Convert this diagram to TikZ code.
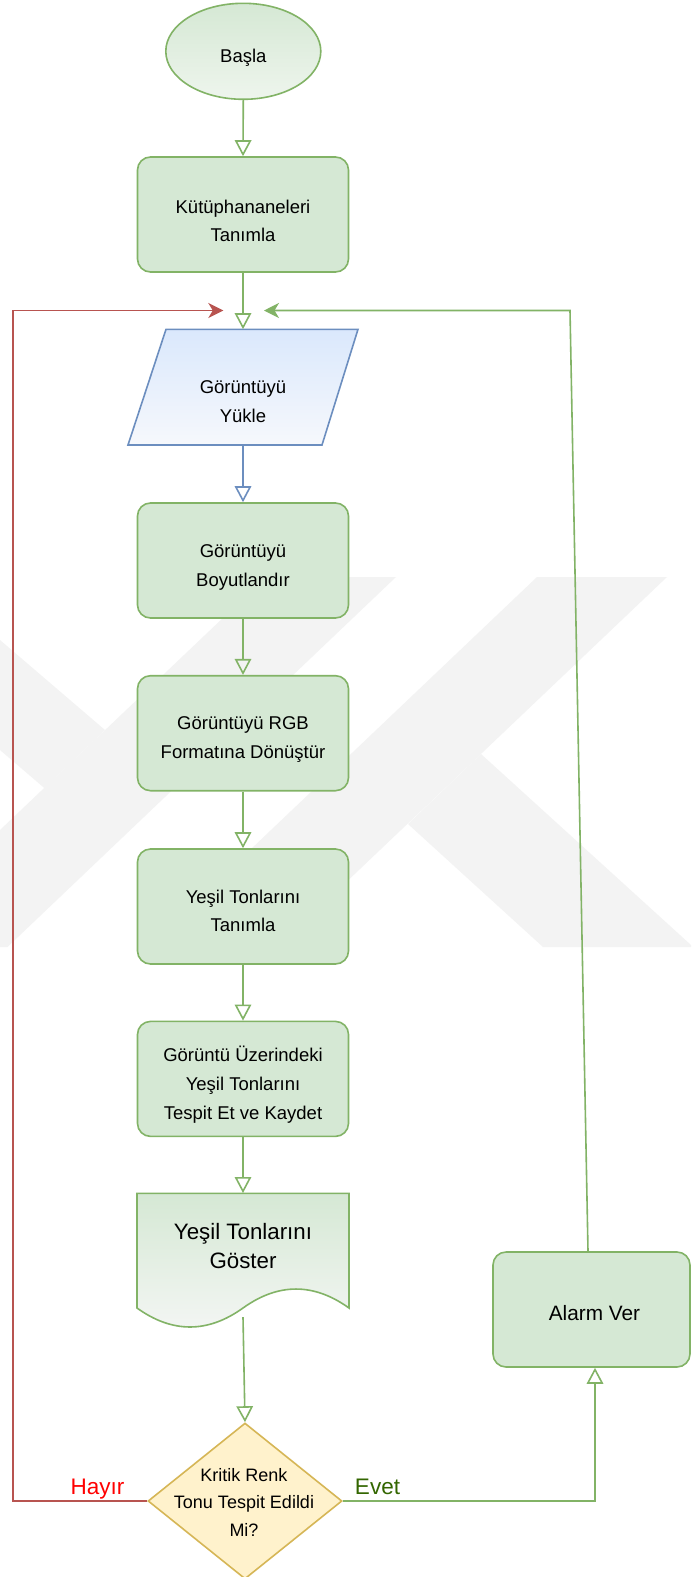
\documentclass[tikz,border=0pt]{standalone}
\usepackage{fontspec}
\setmainfont{Liberation Sans}
\usetikzlibrary{arrows.meta,shapes.geometric,calc}
\definecolor{gstroke}{HTML}{82B366}
\definecolor{gfill}{HTML}{D5E8D4}
\definecolor{gfillL}{HTML}{EEF5ED}
\definecolor{docL}{HTML}{F4F6F4}
\definecolor{bstroke}{HTML}{6C8EBF}
\definecolor{bfill}{HTML}{DAE8FC}
\definecolor{bfillL}{HTML}{F6F8FC}
\definecolor{ystroke}{HTML}{D6B656}
\definecolor{yfill}{HTML}{FFF2CC}
\definecolor{rstroke}{HTML}{B85450}
\definecolor{evetc}{HTML}{336600}
\definecolor{hayirc}{HTML}{FF0000}
\definecolor{wmark}{HTML}{F3F3F3}
\begin{document}
\begin{tikzpicture}[x=1pt,y=-1pt,
  procbox/.style={draw=gstroke, fill=gfill, line width=1.6pt, rounded corners=13pt,
    minimum width=211pt, minimum height=115pt, inner sep=0pt},
  txt/.style={font=\fontsize{18.5}{28.7}\selectfont, align=center, inner sep=0pt, text=black},
  bigtxt/.style={font=\fontsize{22.3}{29}\selectfont, align=center, inner sep=0pt, text=black},
  flowg/.style={draw=gstroke, line width=1.6pt, -{Triangle[open, length=16pt, width=16.5pt]}},
  flowb/.style={draw=bstroke, line width=1.6pt, -{Triangle[open, length=16pt, width=16.5pt]}},
  backr/.style={draw=rstroke, line width=1.6pt, -{Stealth[length=15pt, width=15pt, inset=4.5pt]}},
  backg/.style={draw=gstroke, line width=1.6pt, -{Stealth[length=15pt, width=15pt, inset=4.5pt]}},
  wm/.style={fill=wmark, draw=none}
]
\useasboundingbox (0,0) rectangle (691,1577);
\fill[white] (0,0) rectangle (691,1577);

% faint background watermark
\fill[wm] (537,577) -- (667,577) -- (278,947) -- (148,947) -- cycle;
\fill[wm] (266,577) -- (396,577) -- (7.5,947) -- (0,947) -- (0,830) -- cycle;
\fill[wm] (481,754) -- (691,945) -- (691,947) -- (543,947) -- (408,824) -- cycle;
\fill[wm] (0,640) -- (105,730) -- (44.3,788) -- (0,750) -- cycle;

% start
\node[ellipse, draw=gstroke, line width=1.6pt, top color=gfill, bottom color=gfillL,
  minimum width=155pt, minimum height=96pt, inner sep=0pt] (start) at (243.3,51.3) {};
\node[txt, anchor=base] (startt) at (243.3,62.7) {Başla};

% box 1
\node[procbox] (b1) at (243,214.5) {};
\node[txt] (b1t) at (243,221) {Kütüphananeleri\\Tanımla};

% parallelogram (input)
\node[minimum width=194pt, minimum height=115.7pt, inner sep=0pt] (load) at (243,387.2) {};
\path[draw=bstroke, line width=1.6pt, top color=bfill, bottom color=bfillL]
  (166,329.3) -- (358,329.3) -- (322,445) -- (128,445) -- cycle;
\node[txt] (loadt) at (243,401.5) {Görüntüyü\\Yükle};

% box 2
\node[procbox] (b2) at (243,560.5) {};
\node[txt] (b2t) at (243,567.5) {Görüntüyü\\Boyutlandır};

% box 3
\node[procbox] (b3) at (243,733.2) {};
\node[txt] (b3t) at (243,739.7) {Görüntüyü RGB\\Formatına Dönüştür};

% box 4
\node[procbox] (b4) at (243,906.5) {};
\node[txt] (b4t) at (243,911) {Yeşil Tonlarını\\Tanımla};

% box 5
\node[procbox] (b5) at (243,1078.9) {};
\node[txt] (b5t) at (243,1084.6) {Görüntü Üzerindeki\\Yeşil Tonlarını\\Tespit Et ve Kaydet};

% document
\node[minimum width=212pt, minimum height=115pt, inner sep=0pt] (doc) at (243,1250.7) {};
\path[draw=gstroke, line width=1.6pt, top color=gfill, bottom color=docL]
  (137,1193.3) -- (349,1193.3) -- (349,1308)
  .. controls (313.7,1282.7) and (278.3,1282.7) .. (243,1308)
  .. controls (207.7,1333.3) and (172.3,1333.3) .. (137,1308) -- cycle;
\node[bigtxt] (doct) at (243,1246.5) {Yeşil Tonlarını\\Göster};
\coordinate (docout) at (243,1317);

% decision
\node[diamond, draw=ystroke, fill=yfill, line width=1.6pt, minimum width=194pt,
  minimum height=156pt, inner sep=0pt] (dec) at (245,1501) {};
\node[txt, font=\fontsize{18}{27.5}\selectfont] (dect) at (244,1502) {Kritik Renk\\Tonu Tespit Edildi\\Mi?};

% alarm
\node[procbox, minimum width=197pt] (alarm) at (591.5,1309.5) {};
\node[txt, font=\fontsize{20.8}{26}\selectfont, anchor=base] (alarmt) at (594.5,1320.7) {Alarm Ver};

% labels
\node[anchor=base, inner sep=0pt, text=hayirc, font=\fontsize{22.5}{26}\selectfont] (hayir) at (97.5,1494) {Hayır};
\node[anchor=base, inner sep=0pt, text=evetc, font=\fontsize{22.5}{26}\selectfont] (evet) at (377.5,1494) {Evet};

% connectors
\draw[flowg] (start.south) -- (b1.north);
\draw[flowg] (b1.south) -- (load.north);
\draw[flowb] (load.south) -- (b2.north);
\draw[flowg] (b2.south) -- (b3.north);
\draw[flowg] (b3.south) -- (b4.north);
\draw[flowg] (b4.south) -- (b5.north);
\draw[flowg] (b5.south) -- (doc.north);
\draw[flowg] (docout) -- (dec.north);

\coordinate (rcorner) at (13,310.5);
\coordinate (rin) at (223.3,310.5);
\draw[backr] (dec.west) -| (rcorner) -- (rin);

\draw[flowg] (dec.east) -| ($(alarm.south)+(3.5,0)$);

\coordinate (gcorner) at (570,310.5);
\coordinate (gin) at (264,310.5);
\draw[backg] ($(alarm.north)+(-3.5,0)$) -- (gcorner) -- (gin);
\end{tikzpicture}
\end{document}
